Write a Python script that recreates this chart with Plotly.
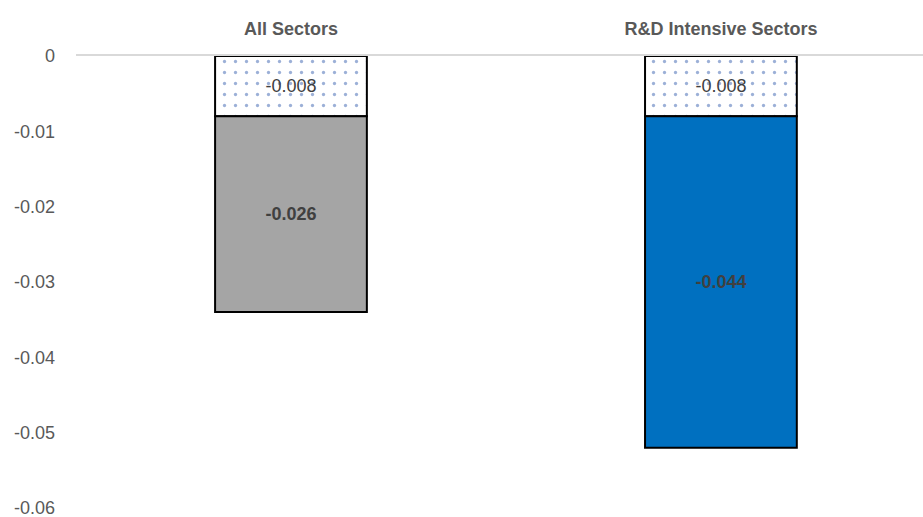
import plotly.graph_objects as go

# Sector groups and their decomposed contributions
categories = ["All Sectors", "R&D Intensive Sectors"]
first_component = [-0.008, -0.008]
second_component = [-0.026, -0.044]
second_colors = ["#A5A5A5", "#0070C0"]

y_ticks = [0, -0.01, -0.02, -0.03, -0.04, -0.05, -0.06]
y_tick_labels = ["0", "-0.01", "-0.02", "-0.03", "-0.04", "-0.05", "-0.06"]

fig = go.Figure()

fig.add_trace(go.Bar(
    x=categories,
    y=first_component,
    width=0.353,
    marker=dict(
        color="white",
        line=dict(color="black", width=2),
        pattern=dict(shape=".", fgcolor="#3A62B0", bgcolor="white",
                     size=11, solidity=0.07, fillmode="overlay"),
    ),
    text=[f"{v:.3f}" for v in first_component],
    textposition="inside",
    insidetextanchor="middle",
    textfont=dict(family="Arial, Liberation Sans", size=18, color="#404040"),
    showlegend=False,
    hoverinfo="skip",
))

fig.add_trace(go.Bar(
    x=categories,
    y=second_component,
    width=0.353,
    marker=dict(color=second_colors, line=dict(color="black", width=2)),
    text=[f"<b>{v:.3f}</b>" for v in second_component],
    textposition="inside",
    insidetextanchor="middle",
    textfont=dict(family="Arial, Liberation Sans", size=18, color="#404040"),
    showlegend=False,
    hoverinfo="skip",
))

fig.update_layout(
    barmode="relative",
    width=923,
    height=517,
    margin=dict(l=76, r=0, t=56, b=0),
    paper_bgcolor="white",
    plot_bgcolor="white",
    xaxis=dict(
        side="top",
        range=[-0.5, 1.47],
        showgrid=False,
        showline=True,
        linecolor="#D9D9D9",
        linewidth=2,
        ticks="",
        ticklabelstandoff=12,
        tickfont=dict(family="Arial, Liberation Sans", size=18, color="#595959",
                      weight="bold"),
    ),
    yaxis=dict(
        range=[-0.0612, 0],
        tickvals=y_ticks,
        ticktext=y_tick_labels,
        showgrid=False,
        zeroline=False,
        showline=False,
        ticks="",
        ticklabelstandoff=20,
        ticklabeloverflow="allow",
        tickfont=dict(family="Arial, Liberation Sans", size=18, color="#595959"),
    ),
)

fig.write_html("out.html")
